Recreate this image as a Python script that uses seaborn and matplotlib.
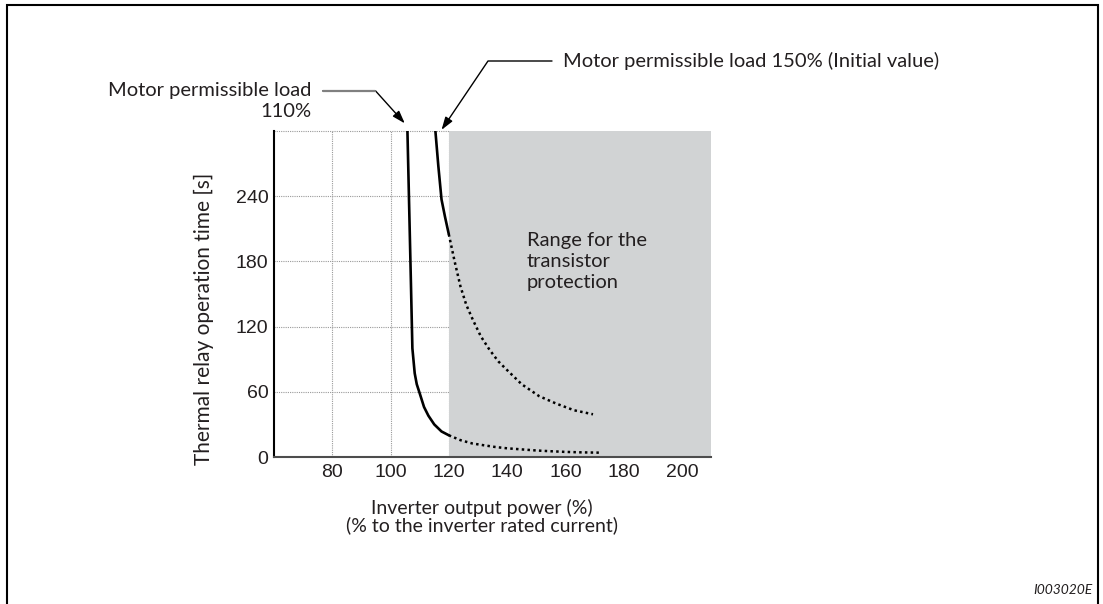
import matplotlib.pyplot as plt
import matplotlib.patches as mpatches
import matplotlib.lines as mlines
import seaborn as sns

# Thermal relay curves (x = inverter output power %, y = seconds)
x_110_solid = [105.8, 106.4, 107.0, 107.5, 108.3, 109.0, 110.0, 111.5, 113.0, 115.0, 117.5, 120.0]
y_110_solid = [300, 230, 160, 100, 77, 67, 58.7, 46, 38, 30, 23.5, 20]
x_110_dot = [120, 124, 128, 132, 136, 140, 145, 150, 155, 160, 165, 171.5]
y_110_dot = [20, 15.5, 12.5, 10.8, 9.2, 8.0, 7.0, 6.0, 5.3, 4.7, 4.3, 4.0]

x_150_solid = [115.4, 116.4, 117.5, 118.7, 120.0]
y_150_solid = [300, 268, 237, 221, 205]
x_150_dot = [120, 122, 124, 126, 128.3, 131, 134, 137, 140, 145, 151, 157, 163, 169.5]
y_150_dot = [205, 180, 157, 140, 126, 111, 98.6, 88, 80, 67, 56, 49, 43, 39.3]

x_ticks = [80, 100, 120, 140, 160, 180, 200]
y_ticks = [0, 60, 120, 180, 240]
x_lim = (60, 210)
y_lim = (0, 300)
protection_from = 120

# where the leader arrows point (tops of the two curves)
tip_110 = (104.9, 307)
tip_150 = (117.5, 301)

W, H = 1103, 604


def fig_xy(px, py):
    # pixel position measured from the top-left -> figure fraction
    return px / W, 1 - py / H


sns.set_style('white')
plt.rcParams['font.family'] = ['Lato', 'DejaVu Sans']

fig = plt.figure(figsize=(W / 100, H / 100), dpi=100)
ax = fig.add_axes([274 / W, 1 - 457 / H, (711 - 274) / W, (457 - 131) / H])

# grey range + dotted grid underneath
ax.axvspan(protection_from, x_lim[1], color='#d1d3d4', lw=0, zorder=1)
ax.grid(True, ls=(0, (1, 1)), lw=0.8, color='#9a9a9a')
ax.set_axisbelow(True)
ax.hlines(y_lim[1], x_lim[0], protection_from, ls=(0, (1, 1)), lw=0.8, color='#9a9a9a', clip_on=False, zorder=0.5)

# curves
line_kw = dict(color='black', estimator=None, sort=False, legend=False, ax=ax)
sns.lineplot(x=x_110_solid, y=y_110_solid, lw=1.9, **line_kw)
sns.lineplot(x=x_110_dot, y=y_110_dot, lw=1.8, ls=(0, (1, 1.3)), **line_kw)
sns.lineplot(x=x_150_solid, y=y_150_solid, lw=1.9, **line_kw)
sns.lineplot(x=x_150_dot, y=y_150_dot, lw=1.8, ls=(0, (1, 1.3)), **line_kw)

ax.set_xlim(*x_lim)
ax.set_ylim(*y_lim)
ax.set_xticks(x_ticks)
ax.set_yticks(y_ticks)
ax.set_xlabel('')
ax.set_ylabel('')
ax.tick_params(direction='in', length=4, width=1, colors='#231f20', labelsize=14,
               labelfontfamily='Liberation Sans')
ax.tick_params(axis='x', pad=5)
ax.tick_params(axis='y', pad=4)
sns.despine(ax=ax)
ax.spines['left'].set(color='black', lw=1.5)
ax.spines['bottom'].set(color='#4d4d4d', lw=1.5)

# texts
txt = dict(family=['Lato', 'DejaVu Sans'], color='#231f20')
fig.text(*fig_xy(563, 66.7), 'Motor permissible load 150% (Initial value)',
         ha='left', va='baseline', fontsize=14.5, **txt)
fig.text(*fig_xy(311.7, 96), 'Motor permissible load', ha='right', va='baseline', fontsize=14.5, **txt)
fig.text(*fig_xy(311.7, 116.7), '110%', ha='right', va='baseline', fontsize=14.5, **txt)
fig.text(*fig_xy(482, 514.3), 'Inverter output power (%)', ha='center', va='baseline', fontsize=14, **txt)
fig.text(*fig_xy(482, 530.7), '(% to the inverter rated current)', ha='center', va='baseline', fontsize=14, **txt)
fig.text(*fig_xy(204, 319), 'Thermal relay operation time [s]', rotation=90,
         ha='center', va='center', fontsize=15, **txt)
ax.text(146.7, 207, 'Range for the\ntransistor\nprotection', ha='left', va='top',
        fontsize=14.5, linespacing=1.3, **txt)
fig.text(*fig_xy(1093, 594), 'I003020E', ha='right', va='baseline', fontsize=10, style='italic', **txt)

# leader arrows
arrow_kw = dict(arrowstyle='-|>,head_length=0.55,head_width=0.18', color='black', lw=1.0,
                shrinkA=0, shrinkB=0, mutation_scale=14)
ax.annotate('', xy=tip_150, xycoords='data', xytext=(552, H - 61), textcoords='figure pixels',
            arrowprops=dict(connectionstyle='angle,angleA=0,angleB=56,rad=0', **arrow_kw),
            annotation_clip=False)
ax.annotate('', xy=tip_110, xycoords='data', xytext=(323, H - 90.7), textcoords='figure pixels',
            arrowprops=dict(connectionstyle='angle,angleA=0,angleB=132,rad=0', **arrow_kw),
            annotation_clip=False)
y_lead = 1 - 90.7 / H
fig.add_artist(mlines.Line2D([323 / W, 375 / W], [y_lead, y_lead], color='#808080', lw=1.6))

# page frame (open at the bottom)
fig.add_artist(mpatches.Rectangle((6.5 / W, -0.05), (1097.5 - 6.5) / W, 1.05 - 5 / H,
                                  transform=fig.transFigure, fill=False, ec='black', lw=1.5, clip_on=False))

fig.savefig('out.png', dpi=100)
